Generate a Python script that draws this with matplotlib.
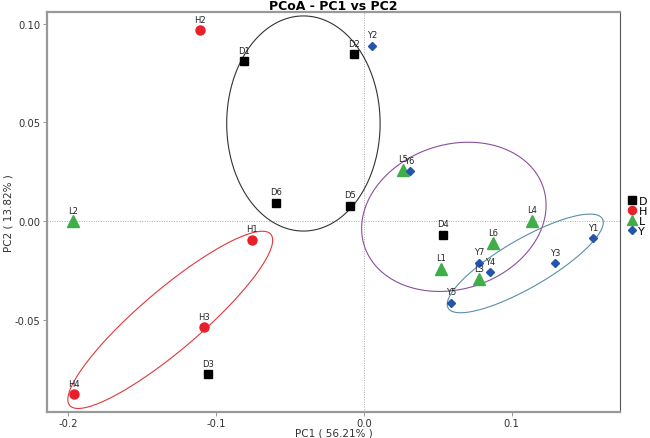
import numpy as np
import matplotlib.pyplot as plt
from matplotlib.patches import Polygon

# sample scores
d_names = ['D1', 'D2', 'D3', 'D4', 'D5', 'D6']
d_pc1 = [-0.0814, -0.0070, -0.1053, 0.0532, -0.0095, -0.0595]
d_pc2 = [0.0811, 0.0846, -0.0777, -0.0069, 0.0078, 0.0093]

h_names = ['H1', 'H2', 'H3', 'H4']
h_pc1 = [-0.0755, -0.1107, -0.1085, -0.1964]
h_pc2 = [-0.0095, 0.0968, -0.0537, -0.0877]

l_names = ['L1', 'L2', 'L3', 'L4', 'L5', 'L6']
l_pc1 = [0.0521, -0.1969, 0.0778, 0.1134, 0.0262, 0.0871]
l_pc2 = [-0.0242, 0.0000, -0.0294, 0.0002, 0.0260, -0.0112]

y_names = ['Y1', 'Y2', 'Y3', 'Y4', 'Y5', 'Y6', 'Y7']
y_pc1 = [0.1552, 0.0052, 0.1292, 0.0853, 0.0589, 0.0309, 0.0778]
y_pc2 = [-0.0086, 0.0889, -0.0213, -0.0260, -0.0414, 0.0253, -0.0211]

# group ellipses: centre, half x-extent, half y-extent, phase (tilt)
ell_cx = [-0.0410, -0.1311, 0.0608, 0.1091]
ell_cy = [0.0494, -0.0501, 0.0021, -0.0215]
ell_sx = [0.0519, 0.0693, 0.0624, 0.0528]
ell_sy = [0.0545, 0.0449, 0.0378, 0.0250]
ell_phase = [90, 26, 81, 34]
ell_col = ['#333333', '#e0393b', '#8a4f9e', '#5a8faa']

fig = plt.figure(figsize=(6.5, 4.39), dpi=100)
ax = fig.add_axes([0.0723, 0.0592, 0.8815, 0.9112])

ax.axhline(0, color='#aaaaaa', lw=0.7, ls=(0, (1, 1.5)), zorder=0)
ax.axvline(0, color='#aaaaaa', lw=0.7, ls=(0, (1, 1.5)), zorder=0)

t = np.linspace(0, 2 * np.pi, 300, endpoint=False)
for cx, cy, sx, sy, ph, c in zip(ell_cx, ell_cy, ell_sx, ell_sy, ell_phase, ell_col):
    pts = np.column_stack([cx + sx * np.cos(t), cy + sy * np.cos(t - np.radians(ph))])
    ax.add_patch(Polygon(pts, closed=True, fill=False, edgecolor=c, lw=0.8, zorder=1))

groups = [
    ('D', d_names, d_pc1, d_pc2, 's', 'black', 6),
    ('H', h_names, h_pc1, h_pc2, 'o', '#e8202a', 6.5),
    ('L', l_names, l_pc1, l_pc2, '^', '#3fae49', 8),
    ('Y', y_names, y_pc1, y_pc2, 'D', '#2455a8', 4.5),
]
for g, names, xs, ys, m, c, ms in groups:
    ax.plot(xs, ys, ls='none', marker=m, color=c, ms=ms, mec=c, label=g, zorder=3)
    for n, x, y in zip(names, xs, ys):
        ax.annotate(n, (x, y), xytext=(0, 4.5), textcoords='offset points',
                    ha='center', va='bottom', fontsize=6, color='#222222', zorder=4)

ax.set_xlim(-0.2145, 0.1732)
ax.set_ylim(-0.0968, 0.1059)
ax.set_xticks([-0.2, -0.1, 0.0, 0.1])
ax.set_xticklabels(['-0.2', '-0.1', '0.0', '0.1'])
ax.set_yticks([-0.05, 0.0, 0.05, 0.10])
ax.set_yticklabels(['-0.05', '0.00', '0.05', '0.10'])
ax.tick_params(labelsize=7.2, length=3, width=0.6, color='#888888', labelcolor='#333333', pad=2)
ax.tick_params(axis='x', pad=1.5)

for s in ['left', 'bottom', 'top']:
    ax.spines[s].set_color('#999999')
    ax.spines[s].set_linewidth(1.6)
ax.spines['right'].set_color('#555555')
ax.spines['right'].set_linewidth(0.8)

ax.set_xlabel('PC1 ( 56.21% )', fontsize=7.5, color='#333333')
ax.set_ylabel('PC2 ( 13.82% )', fontsize=7.5, color='#333333')
ax.xaxis.set_label_coords(0.5, -0.039)
ax.yaxis.set_label_coords(-0.059, 0.5)
ax.set_title('PCoA - PC1 vs PC2', fontsize=9, fontweight='bold', pad=2)

ax.legend(loc='upper left', bbox_to_anchor=(1.005, 0.555), frameon=False, fontsize=8,
          handlelength=0.6, handletextpad=0.3, labelspacing=0.0, borderpad=0,
          markerscale=0.9)

fig.savefig('out.png', dpi=100)
